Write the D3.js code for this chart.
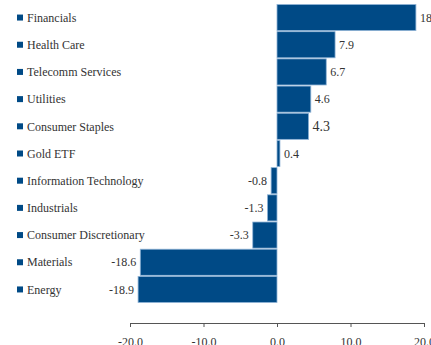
<!DOCTYPE html>
<html>
<head>
<meta charset="utf-8">
<script src="https://cdn.jsdelivr.net/npm/d3@7"></script>
<style>
  body { margin: 0; background: #fff; overflow: hidden; }
  svg text { fill: #333; }
</style>
</head>
<body>
<svg width="431" height="345"></svg>
<script>
const sectors = ['Financials', 'Health Care', 'Telecomm Services', 'Utilities', 'Consumer Staples',
    'Gold ETF', 'Information Technology', 'Industrials', 'Consumer Discretionary', 'Materials', 'Energy'];
const values = [18.9, 7.9, 6.7, 4.6, 4.3, 0.4, -0.8, -1.3, -3.3, -18.6, -18.9];
const valueLabels = ['18.9', '7.9', '6.7', '4.6', '4.3', '0.4', '-0.8', '-1.3', '-3.3', '-18.6', '-18.9'];
const xTicks = [-20, -10, 0, 10, 20];

const svg = d3.select('svg');
const color = '#004a86';
const serif = '"Liberation Serif", serif';

const xScale = d3.scaleLinear()
    .domain([-20, 20])
    .range([130, 424]);

const yScale = d3.scaleBand()
    .domain(sectors)
    .range([4.5, 302.5])
    .paddingInner(0.04);

const g = svg.append('g');

g.selectAll('rect.bar').data(values).enter().append('rect')
    .attr('class', 'bar')
    .attr('x', d => xScale(Math.min(0, d)))
    .attr('y', (d, i) => yScale(sectors[i]))
    .attr('width', d => Math.abs(xScale(d) - xScale(0)))
    .attr('height', yScale.bandwidth())
    .attr('fill', color)
    .attr('stroke', '#8fb3d6')
    .attr('stroke-width', 0.8);

g.selectAll('text.value').data(values).enter().append('text')
    .attr('class', 'value')
    .attr('x', d => d >= 0 ? xScale(d) + 4 : xScale(d) - 4)
    .attr('y', (d, i) => yScale(sectors[i]) + yScale.bandwidth() / 2)
    .attr('dy', '0.35em')
    .attr('text-anchor', d => d >= 0 ? 'start' : 'end')
    .style('font-family', serif)
    .style('font-size', (d, i) => sectors[i] === 'Consumer Staples' ? '14px' : '12px')
    .text((d, i) => valueLabels[i]);

const legend = g.selectAll('g.cat').data(sectors).enter().append('g')
    .attr('class', 'cat')
    .attr('transform', d => `translate(0, ${yScale(d) + yScale.bandwidth() / 2})`);

legend.append('rect')
    .attr('x', 17)
    .attr('y', -3)
    .attr('width', 6)
    .attr('height', 6)
    .attr('fill', color);

legend.append('text')
    .attr('x', 27)
    .attr('dy', '0.35em')
    .style('font-family', serif)
    .style('font-size', '12px')
    .text(d => d);

const xAxis = d3.axisBottom(xScale)
    .tickValues(xTicks)
    .tickSize(4)
    .tickSizeOuter(0)
    .tickPadding(10)
    .tickFormat(d3.format('.1f'));

const xAxisG = svg.append('g')
    .attr('transform', 'translate(0, 323)')
    .call(xAxis);

xAxisG.select('.domain').attr('stroke', '#555');
xAxisG.selectAll('.tick line').attr('stroke', '#555');
xAxisG.selectAll('.tick text')
    .style('font-family', serif)
    .style('font-size', '12px')
    .attr('fill', '#333')
    .text(d => d3.format('.1f')(d).replace('−', '-'));
</script>
</body>
</html>
